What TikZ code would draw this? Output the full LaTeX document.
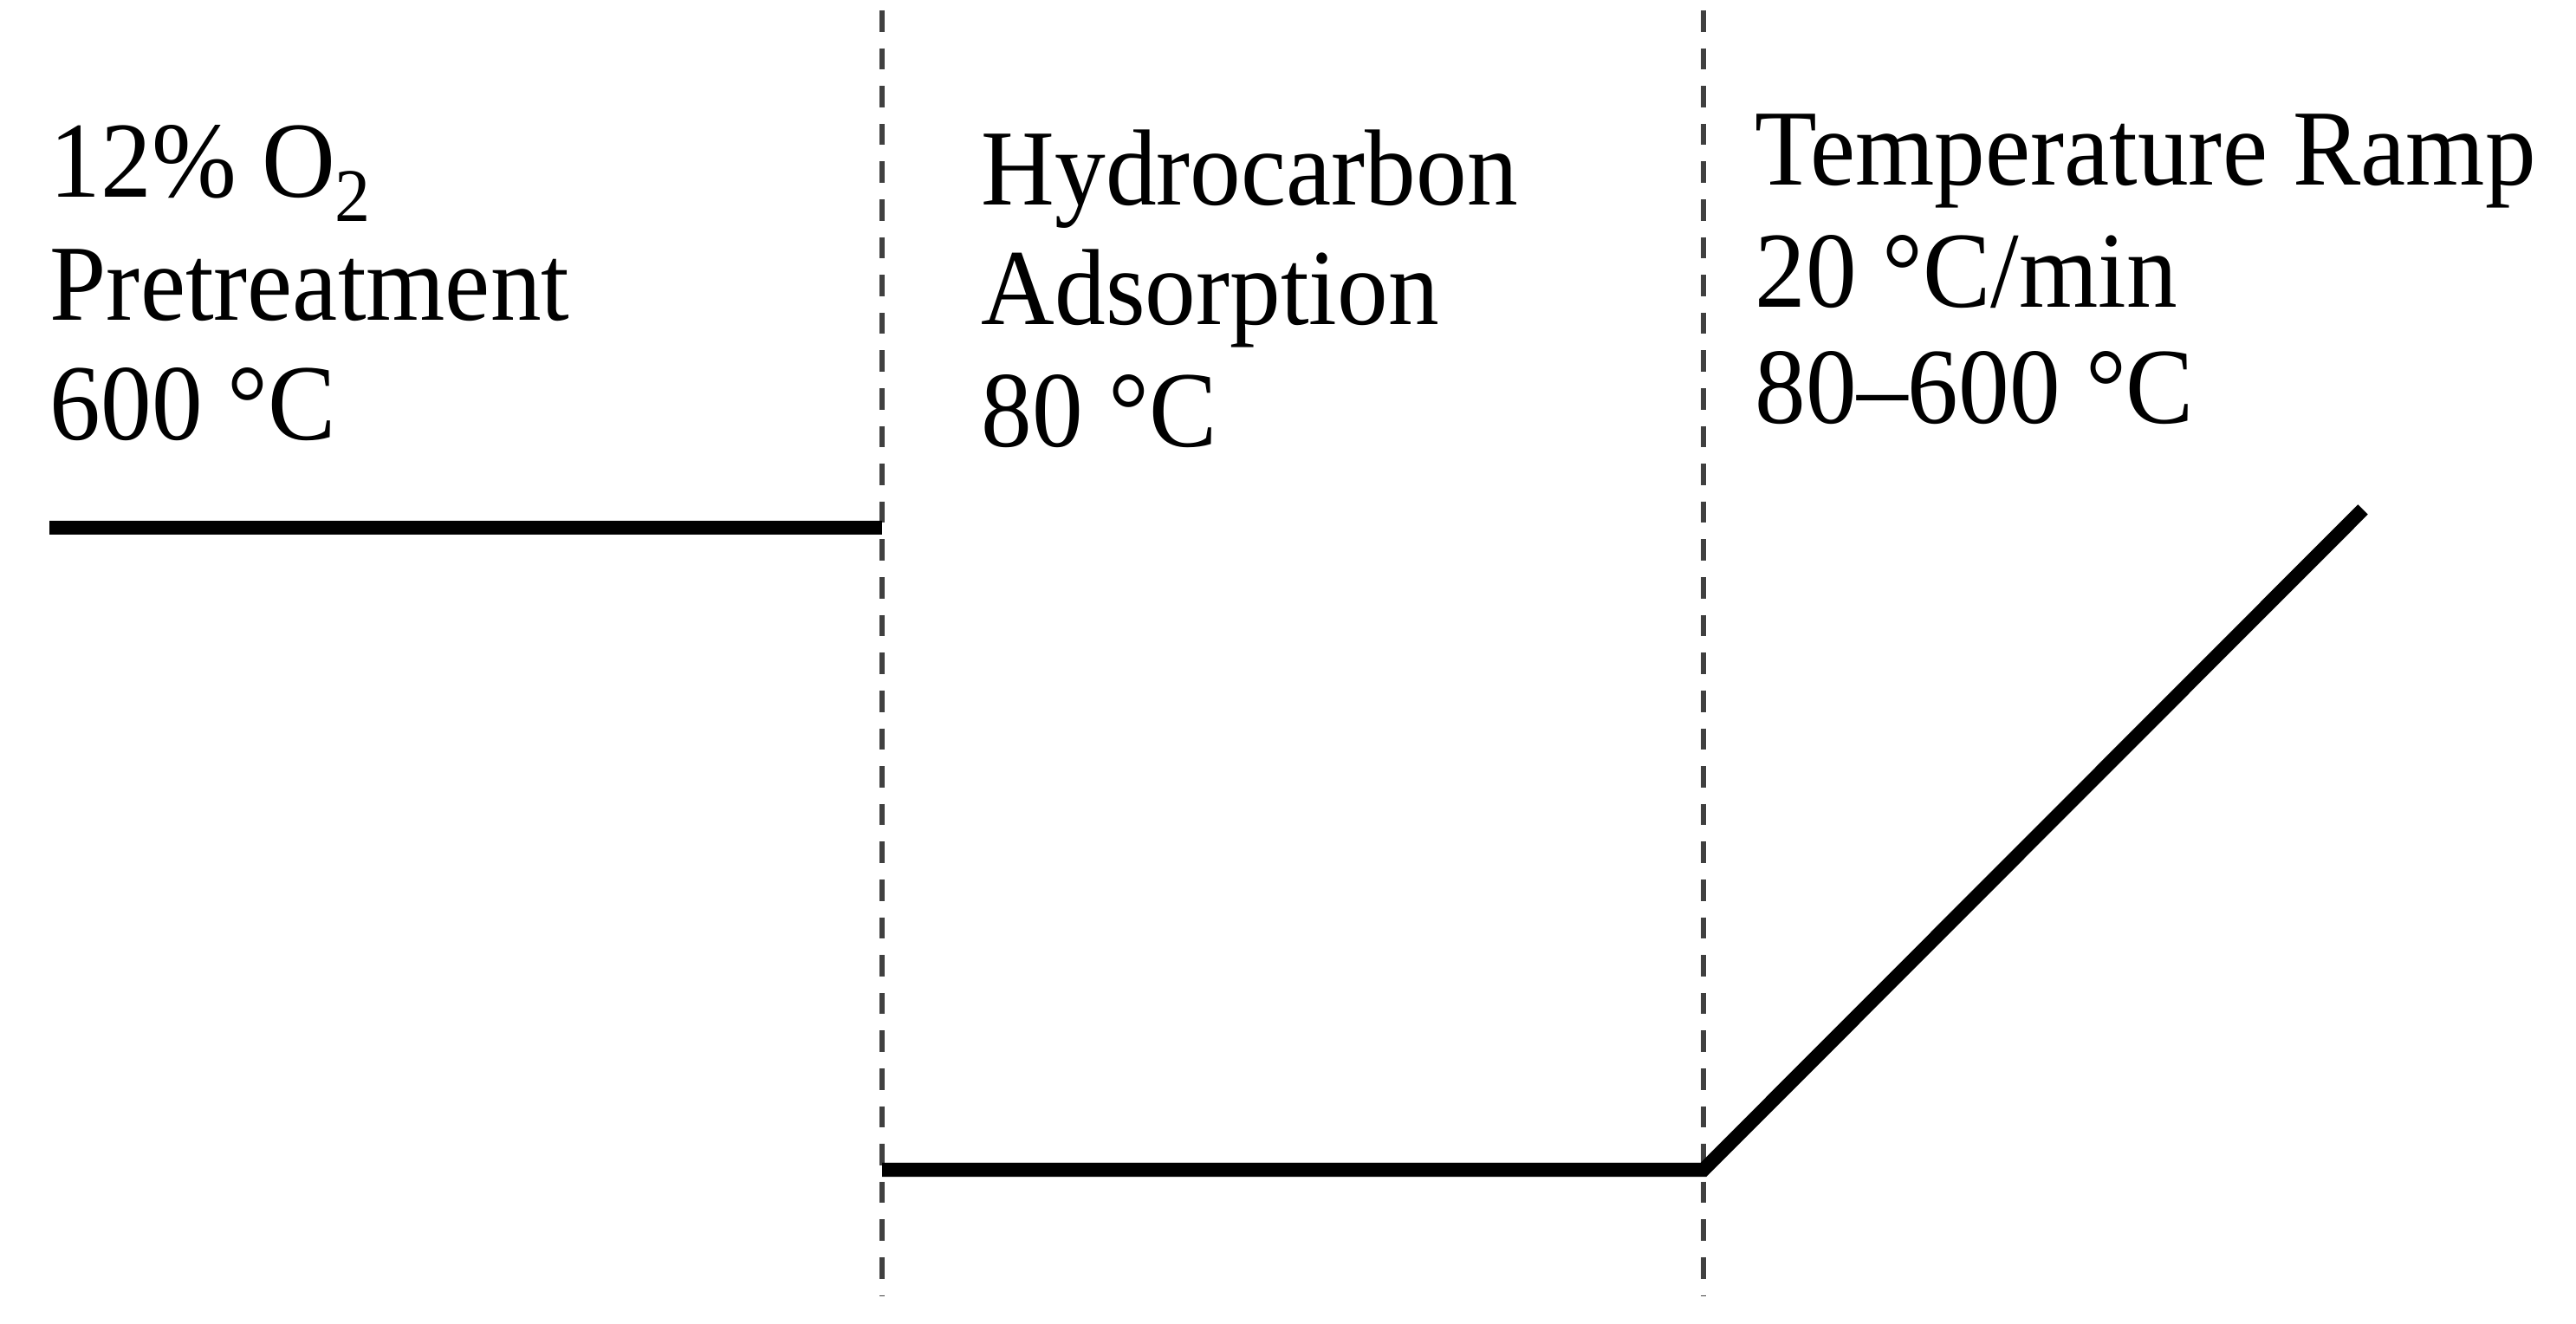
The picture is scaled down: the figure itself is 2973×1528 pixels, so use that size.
\documentclass[tikz,border=0pt]{standalone}
\usepackage{fontspec}
\setmainfont[FakeStretch=0.94]{Liberation Serif}
\begin{document}
\begin{tikzpicture}[x=0.01cm,y=-0.01cm,
  lbl/.style={anchor=base west,inner sep=0pt,font=\fontsize{35.5}{42}\selectfont},
  divider/.style={draw=black!75,line width=1.5pt,dash pattern=on 7pt off 5.4pt},
  profile/.style={draw=black,line width=4.6pt}]
\useasboundingbox (0,0) rectangle (2973,1528);
% dividers
\coordinate (d1top) at (1018,12);
\coordinate (d1bot) at (1018,1495);
\coordinate (d2top) at (1966,12);
\coordinate (d2bot) at (1966,1495);
\draw[divider] (d1top) -- (d1bot);
\draw[divider] (d2top) -- (d2bot);
% temperature profile
\coordinate (p0) at (57,609);
\coordinate (p1) at (1018,609);
\coordinate (p2) at (1018,1350);
\coordinate (p3) at (1966,1350);
\coordinate (p4) at (2727,588);
\draw[profile] (p0) -- (p1);
\draw[profile] (p2) -- (p3) -- (p4);
% labels
\node[lbl] (a1) at (57,228) {12\% O\textsubscript{2}};
\node[lbl] (a2) at (57,370) {Pretreatment};
\node[lbl] (a3) at (57,508) {600 °C};
\node[lbl] (b1) at (1132,237) {Hydrocarbon};
\node[lbl] (b2) at (1132,375) {Adsorption};
\node[lbl] (b3) at (1132,516) {80 °C};
\node[lbl] (c1) at (2025,214) {Temperature Ramp};
\node[lbl] (c2) at (2025,355) {20 °C/min};
\node[lbl] (c3) at (2025,489) {80–600 °C};
\end{tikzpicture}
\end{document}
